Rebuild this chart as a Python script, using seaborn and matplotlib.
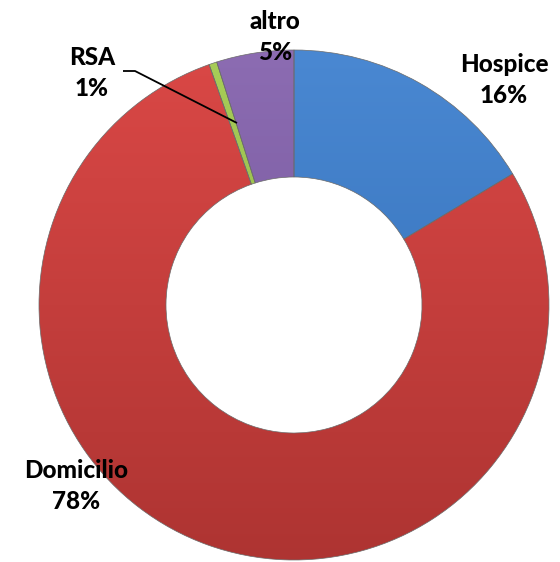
import numpy as np
import matplotlib
matplotlib.use("Agg")
import matplotlib.pyplot as plt
import seaborn as sns
from matplotlib.colors import to_rgb

sns.set_theme(style="white")
plt.rcParams['font.family'] = ['Lato', 'DejaVu Sans']

categories = ["Hospice", "Domicilio", "RSA", "altro"]
values = [16.4, 78.2, 0.5, 4.9]
pct_labels = ["16%", "78%", "1%", "5%"]
colors_top = ["#4A88D2", "#DA4846", "#A8CE58", "#8C6CB2"]
colors_bot = ["#2E6AB2", "#AE3432", "#86A840", "#6C4E94"]

W, H = 560, 562
fig = plt.figure(figsize=(W / 100, H / 100), dpi=100)
ax = fig.add_axes([0, 0, 1, 1])
cx, cy, R = 294, H - 305, 255

wedges, _ = ax.pie(values, startangle=90, counterclock=False, radius=R,
                   center=(cx, cy), colors=colors_top,
                   wedgeprops=dict(width=R - 128, edgecolor="#6a6a6a",
                                   linewidth=0.5))

# vertical shading clipped to each wedge
for w, ct, cb in zip(wedges, colors_top, colors_bot):
    t = np.linspace(0, 1, 256)[:, None]
    a, b = np.array(to_rgb(ct)), np.array(to_rgb(cb))
    img = (a[None, None, :] * (1 - t[..., None]) + b[None, None, :] * t[..., None])
    img = np.repeat(img, 2, axis=1)
    im = ax.imshow(img, extent=(cx - R, cx + R, cy - R, cy + R),
                   origin="upper", aspect="auto", zorder=1.5)
    im.set_clip_path(w)
    w.set_facecolor("none")
    w.set_zorder(2)

ax.set_xlim(0, W)
ax.set_ylim(0, H)
ax.set_aspect("equal")
ax.axis("off")

fs = 17.5
kw = dict(fontsize=fs, fontweight="black", ha="center", va="center",
          color="black", linespacing=1.4, zorder=5)
ax.text(504, H - 80, f"{categories[0]}\n{pct_labels[0]}", **kw)
ax.text(76, H - 486, f"{categories[1]}\n{pct_labels[1]}", **kw)
ax.text(92, H - 73, f"{categories[2]}\n{pct_labels[2]}", **kw)
ax.text(275, H - 37, f"{categories[3]}\n{pct_labels[3]}", **kw)

# leader line for RSA
ax.plot([123, 135, 237], [H - 71, H - 71, H - 123], color="black", lw=1.3,
        zorder=4, solid_capstyle="butt")

fig.savefig("out.png", dpi=100, facecolor="white")
